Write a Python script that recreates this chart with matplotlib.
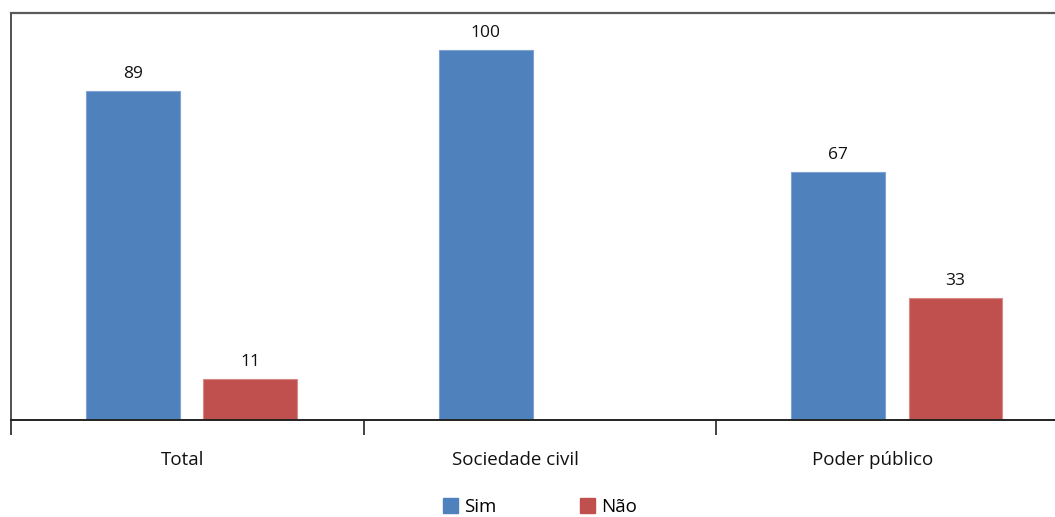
import matplotlib.pyplot as plt
from matplotlib.patches import Patch
import numpy as np

plt.rcParams['font.family'] = ['Open Sans', 'DejaVu Sans']

# chart data
categories = ["Total", "Sociedade civil", "Poder público"]
series_names = ["Sim", "Não"]
sim_values = [89, 100, 67]
nao_values = [11, None, 33]

colors = {"Sim": "#4F81BD", "Não": "#C0504D"}
edge_colors = {"Sim": "#7FA3D3", "Não": "#D98886"}

fig = plt.figure(figsize=(10.55, 5.17), dpi=100)
# axes runs slightly past the right edge, like the original
ax = fig.add_axes([11 / 1055, 1 - 420 / 517, 1058 / 1055, (420 - 13) / 517])

x = np.arange(len(categories))
bar_w = 0.266
offsets = {"Sim": -0.154, "Não": 0.178}

for name, vals in zip(series_names, [sim_values, nao_values]):
    for xi, v in zip(x, vals):
        if v is None:
            continue
        ax.bar(xi + offsets[name], v, width=bar_w, color=colors[name],
               edgecolor=edge_colors[name], linewidth=0.8, zorder=2)
        ax.annotate(f"{v}", (xi + offsets[name], v), xytext=(0, 9.4),
                    textcoords="offset points", ha="center", va="baseline",
                    fontsize=12.5, color="#111111")

ax.set_xlim(-0.5, 2.5)
ax.set_ylim(0, 110)

# tick marks on category boundaries, labels in between
ax.set_xticks(np.arange(-0.5, len(categories), 1.0))
ax.set_xticklabels([])
ax.tick_params(axis="x", which="major", length=10.8, width=1.2,
               direction="out", color="#222222")
# the original labels sit a little left of the group centres
label_shift = [-0.013, -0.069, -0.057]
ax.set_xticks(x + np.array(label_shift), minor=True)
ax.set_xticklabels(categories, minor=True, fontsize=13.5, color="#111111")
ax.tick_params(axis="x", which="minor", length=0, pad=22)
ax.set_yticks([])

ax.spines["top"].set_color("#5A5A5A")
ax.spines["top"].set_linewidth(1.6)
ax.spines["left"].set_color("#333333")
ax.spines["left"].set_linewidth(1.2)
ax.spines["bottom"].set_color("#222222")
ax.spines["bottom"].set_linewidth(1.4)
ax.spines["right"].set_visible(False)

handles = [Patch(facecolor=colors[n], edgecolor=colors[n], label=n) for n in series_names]
fig.legend(handles=handles, loc="center", bbox_to_anchor=(540 / 1055, 1 - 507 / 517),
           ncol=2, frameon=False, fontsize=13.5, handlelength=0.78, handleheight=0.78,
           handletextpad=0.3, columnspacing=4.5)

fig.savefig("out.png", dpi=100)
